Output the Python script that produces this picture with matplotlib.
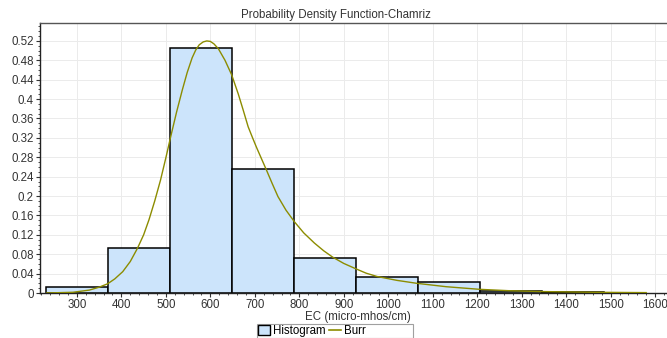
import matplotlib
matplotlib.use("Agg")
import matplotlib.pyplot as plt
from matplotlib.patches import Patch
from matplotlib.lines import Line2D
from matplotlib.ticker import MultipleLocator, AutoMinorLocator, FormatStrFormatter

plt.rcParams['font.family'] = ['Liberation Sans', 'DejaVu Sans']

# histogram bins (left edges) and relative frequencies
bin_left = [230, 370, 510, 649, 788, 928, 1067, 1207, 1346]
bin_width = 139.6
hist_vals = [0.013, 0.092, 0.506, 0.255, 0.072, 0.032, 0.023, 0.004, 0.0015]

# fitted Burr pdf
burr_x = [232, 291, 328, 350, 369, 385, 403, 420, 436, 450, 462, 475, 488,
          500, 511, 524, 537, 548, 559, 567, 575, 584, 592, 600, 608, 618,
          633, 648, 663, 674, 685, 695, 704, 715, 726, 739, 752, 770, 789,
          810, 834, 855, 875, 900, 927, 950, 975, 1020, 1064, 1130, 1205,
          1270, 1343, 1460, 1580]
burr_y = [0.0, 0.0015, 0.006, 0.012, 0.019, 0.029, 0.044, 0.065, 0.092, 0.120,
          0.151, 0.190, 0.233, 0.279, 0.323, 0.373, 0.419, 0.455, 0.485, 0.501,
          0.512, 0.518, 0.520, 0.519, 0.514, 0.504, 0.480, 0.450, 0.410, 0.377,
          0.343, 0.320, 0.300, 0.277, 0.254, 0.226, 0.199, 0.171, 0.147, 0.124,
          0.103, 0.087, 0.074, 0.061, 0.050, 0.041, 0.034, 0.026, 0.020, 0.013,
          0.0076, 0.0048, 0.003, 0.0015, 0.0008]

bar_color = '#cce4fb'
line_color = '#8c8c00'
txt = '#333333'

fig = plt.figure(figsize=(6.67, 3.38), dpi=100)
ax = fig.add_axes([40/667, 45/338, 636/667, 270/338])

ax.bar(bin_left, hist_vals, width=bin_width, align='edge', color=bar_color,
       edgecolor='black', linewidth=1.1, zorder=2)
ax.plot(burr_x, burr_y, color=line_color, linewidth=1.0, zorder=3)

ax.set_xlim(217, 1647)
ax.set_ylim(0, 0.557)
ax.xaxis.set_major_locator(MultipleLocator(100))
ax.xaxis.set_minor_locator(AutoMinorLocator(5))
ax.yaxis.set_major_locator(MultipleLocator(0.04))
ax.yaxis.set_minor_locator(AutoMinorLocator(4))
ax.yaxis.set_major_formatter(FormatStrFormatter('%g'))
ax.set_xticks([300, 400, 500, 600, 700, 800, 900, 1000, 1100, 1200, 1300, 1400, 1500, 1600])

ax.grid(True, which='major', color='#ebebeb', linewidth=0.7, zorder=0)
ax.set_axisbelow(True)
ax.tick_params(which='major', direction='out', length=3, width=0.8,
               colors=txt, labelsize=8.3, pad=1.5)
ax.tick_params(which='minor', direction='out', length=1.5, width=0.6, colors=txt)
for s in ['left', 'bottom']:
    ax.spines[s].set_color('#222222')
    ax.spines[s].set_linewidth(1.0)
ax.spines['top'].set_color('#555555')
ax.spines['top'].set_linewidth(1.0)
ax.spines['right'].set_visible(False)

ax.set_xlabel('EC (micro-mhos/cm)', fontsize=8.3, color=txt, labelpad=0)
fig.text(336/667, 1 - 15/338, 'Probability Density Function-Chamriz',
         ha='center', va='center', fontsize=8.3, color=txt)

handles = [Patch(facecolor=bar_color, edgecolor='black', linewidth=1.0),
           Line2D([0], [0], color=line_color, linewidth=1.2)]
leg = fig.legend(handles, ['Histogram', 'Burr' + ' ' * 14], loc='upper center',
                 bbox_to_anchor=(335/667, 1 - 324/338), ncol=2, fontsize=8.3,
                 frameon=True, fancybox=False, handlelength=1.0,
                 handleheight=0.9, handletextpad=0.3, columnspacing=0.3,
                 borderpad=0.1, borderaxespad=0)
leg.get_frame().set_edgecolor('#888888')
leg.get_frame().set_linewidth(0.8)

fig.savefig('out.png', dpi=100)
